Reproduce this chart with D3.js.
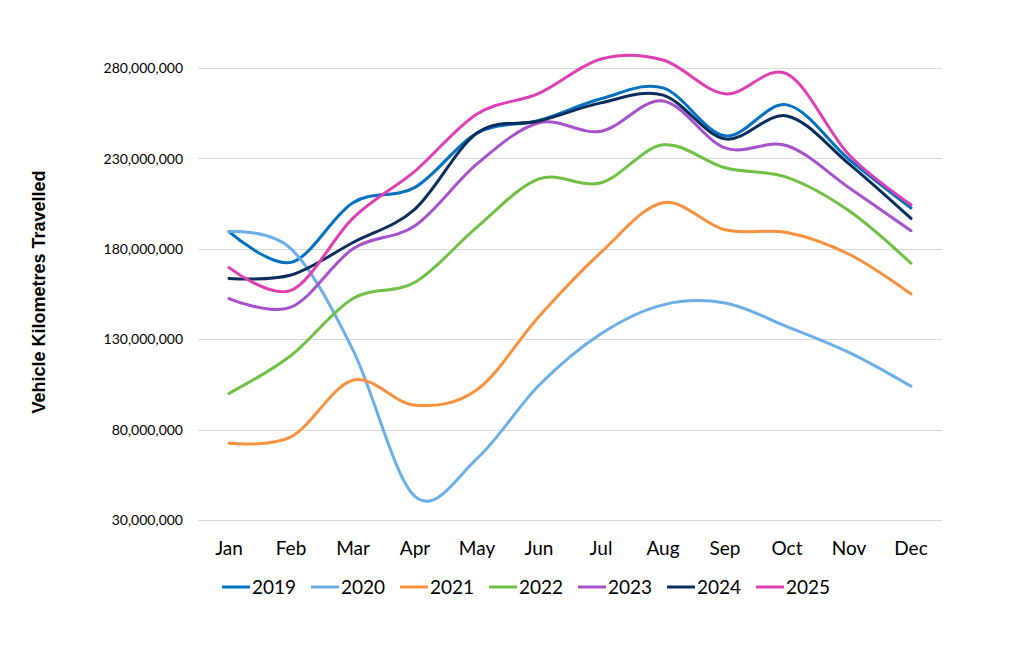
<!DOCTYPE html>
<html>
<head>
<meta charset="utf-8">
<script src="https://cdn.jsdelivr.net/npm/d3@7"></script>
<style>
  html, body { margin: 0; padding: 0; background: #ffffff; }
  svg { display: block; }
</style>
</head>
<body>
<svg id="chart" width="1032" height="649"></svg>
<script>
const months = ["Jan","Feb","Mar","Apr","May","Jun","Jul","Aug","Sep","Oct","Nov","Dec"];
const yTicks = [30000000, 80000000, 130000000, 180000000, 230000000, 280000000];
const seriesNames = ["2019","2020","2021","2022","2023","2024","2025"];
const seriesColors = ["#0070C0","#6CAEE6","#F7913D","#70C046","#A652CB","#0B2D5C","#DE3FB2"];

const v2019 = [189500000,172500000,205500000,214000000,244000000,251000000,263000000,269000000,242500000,259600000,229500000,202600000];
const v2020 = [189500000,180000000,124000000,43000000,64000000,104500000,133000000,149000000,150000000,137000000,122700000,104000000];
const v2021 = [72500000,76000000,107300000,93500000,102000000,142600000,178000000,205500000,190500000,189000000,177000000,155000000];
const v2022 = [100000000,121000000,152500000,161500000,192000000,218700000,216500000,237500000,224800000,219500000,201000000,172000000];
const v2023 = [152500000,147700000,180000000,192800000,227000000,249700000,245000000,261800000,235800000,237000000,213800000,190000000];
const v2024 = [163600000,165500000,183500000,202000000,244000000,250700000,260700000,265000000,240800000,253500000,227000000,196800000];
const v2025 = [169600000,157000000,197000000,223000000,254600000,266000000,285000000,284400000,265700000,276700000,232000000,204400000];

const allValues = [v2019, v2020, v2021, v2022, v2023, v2024, v2025];
const series = seriesNames.map((name, i) => ({ name, color: seriesColors[i], values: allValues[i] }));

const svg = d3.select("#chart");
const plotLeft = 198, plotRight = 942;

const x = d3.scaleBand().domain(months).range([plotLeft, plotRight]);
const y = d3.scaleLinear().domain([30000000, 280000000]).range([520, 68]);

// gridlines
svg.append("g").selectAll("line").data(yTicks).join("line")
  .attr("x1", plotLeft).attr("x2", plotRight)
  .attr("y1", d => Math.round(y(d)) + 0.5).attr("y2", d => Math.round(y(d)) + 0.5)
  .attr("stroke", "#D9D9D9").attr("stroke-width", 1);

// y axis
const yAxis = d3.axisLeft(y).tickValues(yTicks).tickSize(0).tickPadding(0)
  .tickFormat(d3.format(","));
const gy = svg.append("g").attr("transform", `translate(183,0)`).call(yAxis);
gy.select(".domain").remove();
gy.selectAll("text").attr("font-family", "Lato, 'Open Sans', sans-serif")
  .attr("font-size", 14).attr("fill", "#000").attr("dy", "0.34em");

// x axis
const xAxis = d3.axisBottom(x).tickSize(0).tickPadding(0);
const gx = svg.append("g").attr("transform", `translate(0,541)`).call(xAxis);
gx.select(".domain").remove();
gx.selectAll("text").attr("font-family", "Lato, 'Open Sans', sans-serif")
  .attr("font-size", 19).attr("fill", "#000").attr("dy", "0.71em");

// axis title
svg.append("text")
  .attr("transform", "translate(45,292) rotate(-90)")
  .attr("text-anchor", "middle")
  .attr("font-family", "'Liberation Sans', Arial, sans-serif")
  .attr("font-weight", "bold").attr("font-size", 18).attr("fill", "#000")
  .text("Vehicle Kilometres Travelled");

// lines
const line = d3.line()
  .x((d, i) => x(months[i]) + x.bandwidth() / 2)
  .y(d => y(d))
  .curve(d3.curveCardinal.tension(0));

svg.append("g").selectAll("path").data(series).join("path")
  .attr("d", d => line(d.values))
  .attr("fill", "none")
  .attr("stroke", d => d.color)
  .attr("stroke-width", 3)
  .attr("stroke-linecap", "round")
  .attr("stroke-linejoin", "round");

// legend
const legend = svg.append("g").attr("transform", "translate(222,587)");
const item = legend.selectAll("g").data(series).join("g")
  .attr("transform", (d, i) => `translate(${i * 89},0)`);
item.append("line").attr("x1", 0).attr("x2", 28).attr("y1", 0).attr("y2", 0)
  .attr("stroke", d => d.color).attr("stroke-width", 3);
item.append("text").attr("x", 30).attr("y", 0).attr("dy", "0.36em")
  .attr("font-family", "Lato, 'Open Sans', sans-serif")
  .attr("font-size", 19).attr("fill", "#000")
  .text(d => d.name);
</script>
</body>
</html>
